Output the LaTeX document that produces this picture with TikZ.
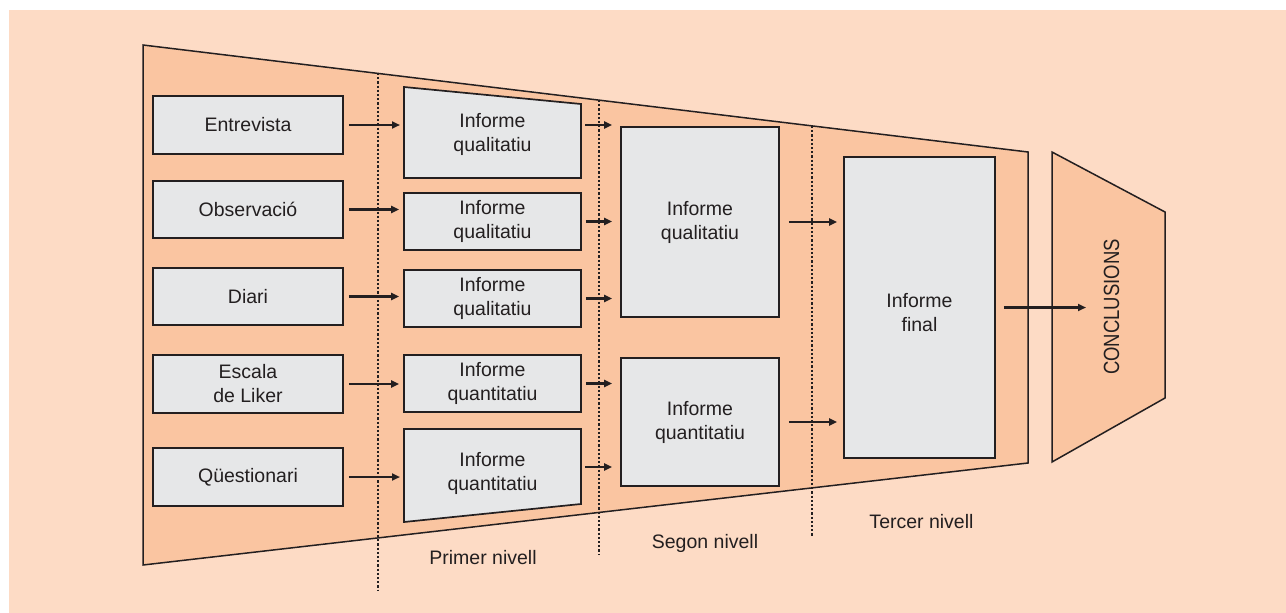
\documentclass[tikz,border=0pt]{standalone}
\usepackage{fontspec}
\setmainfont{Liberation Sans}
\usetikzlibrary{arrows.meta}
\definecolor{bgpeach}{HTML}{FDDBC5}
\definecolor{funnelc}{HTML}{FAC5A1}
\definecolor{boxgray}{HTML}{E6E7E8}
\definecolor{ink}{HTML}{231F20}
\begin{document}
\begin{tikzpicture}[x=1pt,y=-1pt,
  txt/.style={font=\fontsize{19.5}{24}\selectfont, text=ink, align=center, inner sep=0pt},
  rbox/.style={draw=ink, line width=1.7pt, fill=boxgray, txt},
  outline/.style={draw=ink, line width=1.5pt},
  arr/.style={draw=ink, line width=2.3pt, -{Triangle[length=8pt,width=7pt]}},
  dots/.style={draw=ink, line width=2.3pt, dash pattern=on 2.2pt off 2pt}]
\useasboundingbox (0,0) rectangle (1286,613);
\fill[bgpeach] (9,10) rectangle (1286,613);
% funnel
\path[outline, fill=funnelc] (143,45) -- (1028,152) -- (1028,463) -- (143,565) -- cycle;
% conclusions shape
\path[outline, fill=funnelc] (1052,152) -- (1165,212) -- (1165,398) -- (1052,462) -- cycle;
% dotted separators
\draw[dots] (378,73) -- (378,590);
\draw[dots] (599,100) -- (599,555);
\draw[dots] (812,126) -- (812,536);
% first column
\node[rbox, minimum width=190pt, minimum height=58pt] (e1) at (248,125) {Entrevista};
\node[rbox, minimum width=190pt, minimum height=57pt] (e2) at (248,209.5) {Observació};
\node[rbox, minimum width=190pt, minimum height=57pt] (e3) at (248,296.5) {Diari};
\node[rbox, minimum width=190pt, minimum height=58pt] (e4) at (248,384) {Escala\\de Liker};
\node[rbox, minimum width=190pt, minimum height=58pt] (e5) at (248,477) {Qüestionari};
% second column
\path[draw=ink, line width=1.7pt, fill=boxgray] (404,87) -- (581,104) -- (581,178) -- (404,178) -- cycle;
\node[txt] (ia) at (492.5,134) {Informe\\qualitatiu};
\coordinate (aw) at (404,125);
\coordinate (ae) at (581,125);
\node[rbox, minimum width=177pt, minimum height=57pt] (ib) at (492.5,221.5) {Informe\\qualitatiu};
\node[rbox, minimum width=177pt, minimum height=57pt] (ic) at (492.5,298.5) {Informe\\qualitatiu};
\node[rbox, minimum width=177pt, minimum height=57pt] (id) at (492.5,383.5) {Informe\\quantitatiu};
\path[draw=ink, line width=1.7pt, fill=boxgray] (404,429) -- (581,429) -- (581,504) -- (404,522) -- cycle;
\node[txt] (ie) at (492.5,473) {Informe\\quantitatiu};
\coordinate (ew) at (404,477);
\coordinate (ee) at (581,467);
% third column
\node[rbox, minimum width=158pt, minimum height=190pt] (q1) at (700,222) {Informe\\qualitatiu};
\node[rbox, minimum width=158pt, minimum height=128pt] (q2) at (700,422) {Informe\\quantitatiu};
% final
\node[rbox, minimum width=151pt, minimum height=301pt] (fin) at (919.5,307.5) {};
\node[txt] (fintxt) at (919.5,312.5) {Informe\\final};
% conclusions text
\node[txt, rotate=90, font=\fontsize{22}{26}\selectfont] (conc) at (1111.5,307) {\scalebox{0.84}[1]{CONCLUSIONS}};
\coordinate (cin) at (1086,308);
% arrows col1 -> col2
\draw[arr, shorten <=5pt, shorten >=4pt] (e1.east) -- (e1.east -| aw);
\draw[arr, shorten <=5pt, shorten >=4pt] (e2.east) -- (e2.east -| ib.west);
\draw[arr, shorten <=5pt, shorten >=4pt] (e3.east) -- (e3.east -| ic.west);
\draw[arr, shorten <=5pt, shorten >=4pt] (e4.east) -- (e4.east -| id.west);
\draw[arr, shorten <=5pt, shorten >=4pt] (e5.east) -- (e5.east -| ew);
% arrows col2 -> col3
\draw[arr, shorten <=4pt, shorten >=8pt] (ae) -- (ae -| q1.west);
\draw[arr, shorten <=4pt, shorten >=8pt] (ib.east) -- (ib.east -| q1.west);
\draw[arr, shorten <=4pt, shorten >=8pt] (ic.east) -- (ic.east -| q1.west);
\draw[arr, shorten <=4pt, shorten >=8pt] (id.east) -- (id.east -| q2.west);
\draw[arr, shorten <=4pt, shorten >=8pt] (ee) -- (ee -| q2.west);
% arrows col3 -> final
\draw[arr, shorten <=9pt, shorten >=6pt] (q1.east) -- (q1.east -| fin.west);
\draw[arr, shorten <=9pt, shorten >=6pt] (q2.east) -- (q2.east -| fin.west);
% final -> conclusions
\draw[arr, shorten <=8pt] (fin.east) -- (fin.east -| cin);
% level labels
\node[txt] (l1) at (483,558) {Primer nivell};
\node[txt] (l2) at (705,543.5) {Segon nivell};
\node[txt] (l3) at (921.5,521.5) {Tercer nivell};
\end{tikzpicture}
\end{document}
